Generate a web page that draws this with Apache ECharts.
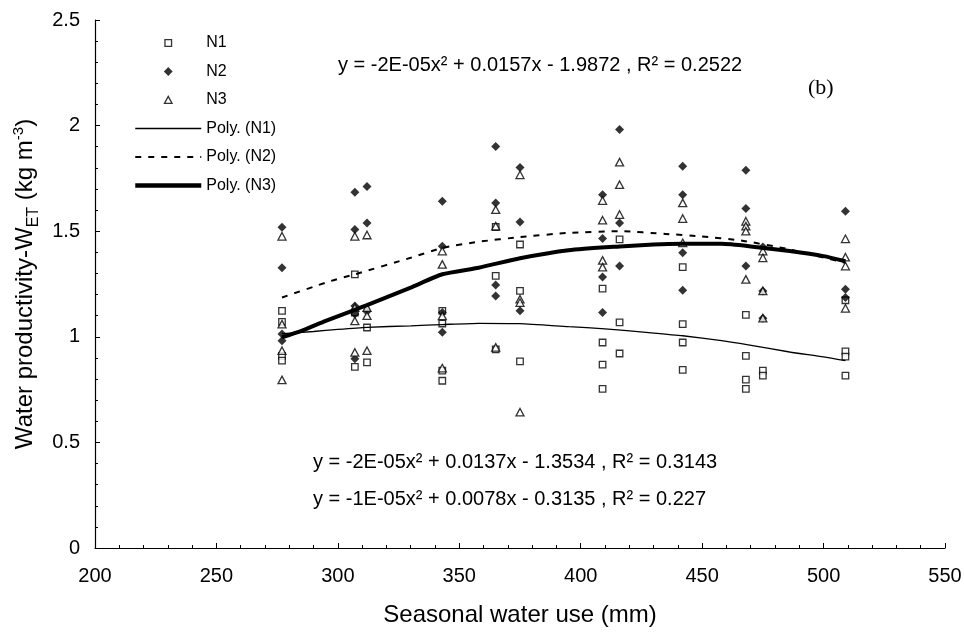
<!DOCTYPE html>
<html>
<head>
<meta charset="utf-8">
<script src="https://cdn.jsdelivr.net/npm/echarts@6/dist/echarts.min.js"></script>
<style>
html,body{margin:0;padding:0;background:#fff;}
#chart{width:964px;height:635px;}
</style>
</head>
<body>
<div id="chart"></div>
<script>
// ---- axis ticks ----
const xTicks = [200, 250, 300, 350, 400, 450, 500, 550];
const yTicks = [0, 0.5, 1, 1.5, 2, 2.5];

// ---- observed points (seasonal water use mm, water productivity kg m-3) ----
const n1X = [277,277,277,277, 307,307,307, 312,312, 343,343,343,343, 365,365,365, 375,375,375, 409,409,409,409, 416,416,416, 442,442,442,442, 468,468,468,468, 475,475, 509,509,509,509];
const n1Y = [1.123,1.071,0.910,0.887, 1.296,1.115,0.858, 1.044,0.879, 1.123,1.063,0.840,0.792, 1.52,1.288,0.94, 1.437,1.217,0.884, 1.228,0.973,0.868,0.753, 1.461,1.068,0.921, 1.330,1.060,0.973,0.843, 1.104,0.910,0.797,0.753, 0.840,0.816, 1.173,0.931,0.906,0.816];

const n2X = [277,277,277,277, 307,307,307,307,307, 312,312,312, 343,343,343,343, 365,365,365,365, 375,375,375, 409,409,409,409, 416,416,416, 442,442,442,442, 468,468,468, 475,475,475, 509,509,509];
const n2Y = [1.519,1.327,1.013,0.981, 1.685,1.508,1.146,1.108,0.896, 1.712,1.539,1.12, 1.642,1.429,1.115,1.021, 1.901,1.634,1.245,1.193, 1.802,1.544,1.123, 1.673,1.466,1.283,1.115, 1.981,1.539,1.335, 1.807,1.673,1.398,1.220, 1.788,1.607,1.335, 1.425,1.217,1.088, 1.594,1.225,1.186];

const n3X = [277,277,277,277, 307,307,307,307, 312,312,312,312, 343,343,343,343, 365,365,365, 375,375,375,375, 409,409,409,409, 416,416,416, 442,442,442, 468,468,468,468, 475,475,475,475, 509,509,509,509];
const n3Y = [1.476,1.06,0.934,0.796, 1.476,1.138,1.075,0.926, 1.482,1.138,1.10,0.934, 1.406,1.343,1.099,0.852, 1.602,1.524,0.95, 1.767,1.178,1.162,0.643, 1.645,1.552,1.362,1.330, 1.827,1.72,1.579, 1.634,1.560,1.445, 1.547,1.524,1.50,1.272, 1.406,1.374,1.217,1.088, 1.464,1.377,1.335,1.135];

// ---- polynomial trend lines ----
const polyN1X = [277,290,300,312,330,343,358,375,395,410,428,442,458,469,486,500,509];
const polyN1Y = [1.015,1.025,1.035,1.045,1.052,1.058,1.064,1.062,1.048,1.038,1.020,1.005,0.982,0.962,0.928,0.905,0.887];
const polyN2X = [277,297,307,330,343,358,375,395,416,435,449,466,485,509];
const polyN2Y = [1.186,1.264,1.296,1.374,1.421,1.450,1.472,1.492,1.500,1.487,1.476,1.456,1.416,1.350];
const polyN3X = [277,285,295,307,312,330,343,358,375,395,416,430,442,458,470,486,500,509];
const polyN3Y = [0.997,1.028,1.075,1.128,1.150,1.233,1.296,1.327,1.372,1.410,1.428,1.437,1.440,1.440,1.428,1.406,1.382,1.358];

const eqTop = 'y = -2E-05x\u00B2 + 0.0157x - 1.9872 , R\u00B2 = 0.2522';
const eqMid = 'y = -2E-05x\u00B2 + 0.0137x - 1.3534 , R\u00B2 = 0.3143';
const eqLow = 'y = -1E-05x\u00B2 + 0.0078x - 0.3135 , R\u00B2 = 0.227';
const panelTag = '(b)';

const zip = (xs, ys) => xs.map((x, i) => [x, ys[i]]);
const FONT = '"Liberation Sans", Arial, sans-serif';
const hiddenMarker = {color: 'rgba(0,0,0,0)', borderColor: 'rgba(0,0,0,0)', borderWidth: 0, opacity: 0};

const chart = echarts.init(document.getElementById('chart'), null, {renderer: 'canvas'});
chart.setOption({
  animation: false,
  backgroundColor: '#fff',
  textStyle: {fontFamily: FONT, color: '#000'},
  grid: {left: 95, right: 19, top: 20, bottom: 87, containLabel: false, outerBoundsMode: 'none'},
  xAxis: {
    type: 'value',
    min: xTicks[0], max: xTicks[xTicks.length - 1], interval: xTicks[1] - xTicks[0],
    name: 'Seasonal water use (mm)',
    nameLocation: 'middle', nameGap: 55,
    nameTextStyle: {fontSize: 24, fontFamily: FONT, color: '#000'},
    axisLine: {show: true, onZero: false, lineStyle: {color: '#000', width: 1.2}},
    axisTick: {show: true, inside: true, length: 5, lineStyle: {color: '#000'}},
    minorTick: {show: true, splitNumber: 5, length: 3, lineStyle: {color: '#000'}},
    axisLabel: {fontSize: 20, fontFamily: FONT, color: '#000', margin: 18},
    splitLine: {show: false}
  },
  yAxis: {
    type: 'value',
    min: yTicks[0], max: yTicks[yTicks.length - 1], interval: yTicks[1] - yTicks[0],
    name: 'Water productivity-W{sub|ET} (kg m{sup|-3})',
    nameLocation: 'middle', nameGap: 57, nameRotate: 90,
    nameTextStyle: {
      fontSize: 24, fontFamily: FONT, color: '#000',
      rich: {
        sub: {fontSize: 16, fontFamily: FONT, verticalAlign: 'bottom', padding: [0, 0, -4, 0]},
        sup: {fontSize: 15, fontFamily: FONT, verticalAlign: 'top', padding: [-2, 0, 0, 0]}
      }
    },
    axisLine: {show: true, onZero: false, lineStyle: {color: '#000', width: 1.2}},
    axisTick: {show: true, inside: true, length: 5, lineStyle: {color: '#000'}},
    minorTick: {show: true, splitNumber: 5, length: 3, lineStyle: {color: '#000'}},
    axisLabel: {fontSize: 20, fontFamily: FONT, color: '#000', margin: 15},
    splitLine: {show: false}
  },
  legend: {
    orient: 'vertical', left: 128, top: 30,
    itemWidth: 66, itemHeight: 14, itemGap: 12.5,
    textStyle: {fontSize: 16, fontFamily: FONT, color: '#000'},
    data: [
      {name: 'N1', icon: 'path://M0,0M14,14M3.7,3.7L10.3,3.7L10.3,10.3L3.7,10.3Z', itemStyle: {color: '#fff', borderColor: '#000', borderWidth: 1.3}},
      {name: 'N2', icon: 'path://M0,0M14,14M7,2.6L11.4,7L7,11.4L2.6,7Z', itemStyle: {color: '#000', borderColor: '#000', borderWidth: 0}},
      {name: 'N3', icon: 'path://M0,0M14,14M7,3.4L10.8,10.4L3.2,10.4Z', itemStyle: {color: '#fff', borderColor: '#000', borderWidth: 1.3}},
      {name: 'Poly. (N1)', itemStyle: hiddenMarker, lineStyle: {color: '#000', width: 1.3, type: 'solid'}},
      {name: 'Poly. (N2)', itemStyle: hiddenMarker, lineStyle: {color: '#000', width: 2, type: [6, 7]}},
      {name: 'Poly. (N3)', itemStyle: hiddenMarker, lineStyle: {color: '#000', width: 4.5, type: 'solid'}}
    ]
  },
  graphic: [
    {type: 'text', x: 338, y: 65, style: {text: eqTop, fontSize: 20, fontFamily: FONT, fill: '#000', verticalAlign: 'middle'}},
    {type: 'text', x: 313, y: 462, style: {text: eqMid, fontSize: 20, fontFamily: FONT, fill: '#000', verticalAlign: 'middle'}},
    {type: 'text', x: 313, y: 499, style: {text: eqLow, fontSize: 20, fontFamily: FONT, fill: '#000', verticalAlign: 'middle'}},
    {type: 'text', x: 808, y: 88, style: {text: panelTag, fontSize: 22, fontFamily: '"Liberation Serif", "Times New Roman", serif', fill: '#000', verticalAlign: 'middle'}}
  ],
  series: [
    {name: 'N1', type: 'scatter', data: zip(n1X, n1Y), symbol: 'rect', symbolSize: 6.5,
     itemStyle: {color: '#fff', borderColor: '#000', borderWidth: 1.3}},
    {name: 'N2', type: 'scatter', data: zip(n2X, n2Y), symbol: 'diamond', symbolSize: 9,
     itemStyle: {color: '#000'}},
    {name: 'N3', type: 'scatter', data: zip(n3X, n3Y), symbol: 'triangle', symbolSize: [8, 7.5],
     itemStyle: {color: '#fff', borderColor: '#000', borderWidth: 1.3}},
    {name: 'Poly. (N1)', type: 'line', data: zip(polyN1X, polyN1Y), symbol: 'none', smooth: 0.2,
     lineStyle: {color: '#000', width: 1.3}, itemStyle: {color: '#000'}},
    {name: 'Poly. (N2)', type: 'line', data: zip(polyN2X, polyN2Y), symbol: 'none', smooth: 0.2,
     lineStyle: {color: '#000', width: 2, type: [6, 7]}, itemStyle: {color: '#000'}},
    {name: 'Poly. (N3)', type: 'line', data: zip(polyN3X, polyN3Y), symbol: 'none', smooth: 0.2,
     lineStyle: {color: '#000', width: 4}, itemStyle: {color: '#000'}}
  ]
});
</script>
</body>
</html>
